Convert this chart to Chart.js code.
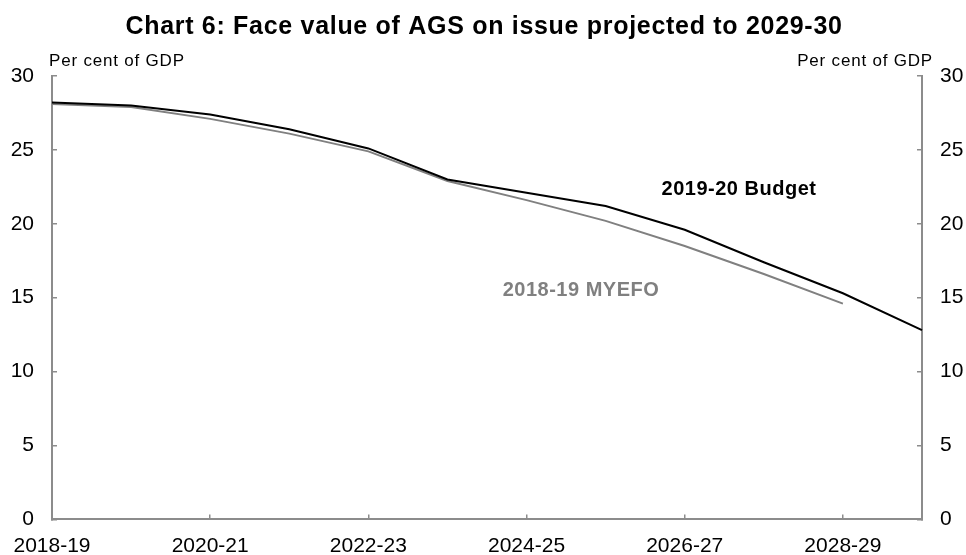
<!DOCTYPE html>
<html>
<head>
<meta charset="utf-8">
<script src="https://cdn.jsdelivr.net/npm/chart.js@4"></script>
<style>
  html, body { margin: 0; padding: 0; background: #fff; }
  #wrap { width: 966px; height: 555px; }
</style>
</head>
<body>
<div id="wrap"><canvas id="agsChart" width="966" height="555"></canvas></div>
<script>
// Face value of AGS on issue, per cent of GDP
const years = ['2018-19', '2019-20', '2020-21', '2021-22', '2022-23', '2023-24',
  '2024-25', '2025-26', '2026-27', '2027-28', '2028-29', '2029-30'];
const budget = [28.2, 28.0, 27.4, 26.4, 25.1, 23.0, 22.1, 21.2, 19.6, 17.4, 15.3, 12.8];
const myefo = [28.1, 27.9, 27.1, 26.1, 24.9, 22.9, 21.6, 20.2, 18.5, 16.6, 14.6, null];
const yTicks = [0, 5, 10, 15, 20, 25, 30];

const axisGrey = '#8c8c8c';
const fontFamily = '"Liberation Sans", Arial, sans-serif';

Chart.defaults.font.family = fontFamily;
Chart.defaults.color = '#000';

// title, unit labels and series labels
const textPlugin = {
  id: 'chartText',
  afterDraw(chart) {
    const ctx = chart.ctx;
    ctx.save();
    ctx.textBaseline = 'alphabetic';

    ctx.fillStyle = '#000';
    ctx.font = 'bold 25px ' + fontFamily;
    ctx.letterSpacing = '0.7px';
    ctx.textAlign = 'center';
    ctx.fillText('Chart 6: Face value of AGS on issue projected to 2029-30', 484, 34);

    ctx.font = '17px ' + fontFamily;
    ctx.letterSpacing = '0.8px';
    ctx.textAlign = 'left';
    ctx.fillText('Per cent of GDP', 49, 66);
    ctx.textAlign = 'right';
    ctx.fillText('Per cent of GDP', 933, 66);

    ctx.font = 'bold 20px ' + fontFamily;
    ctx.letterSpacing = '0.5px';
    ctx.textAlign = 'center';
    ctx.fillStyle = '#000';
    ctx.fillText('2019-20 Budget', 739, 195);
    ctx.fillStyle = '#808080';
    ctx.fillText('2018-19 MYEFO', 581, 296);
    ctx.restore();
  }
};

function yAxis(position, width) {
  return {
    position: position,
    min: 0,
    max: 30,
    afterBuildTicks: scale => { scale.ticks = yTicks.map(v => ({ value: v })); },
    ticks: { padding: 23, font: { size: 21 }, color: '#000' },
    grid: { drawOnChartArea: false, tickLength: -5, color: axisGrey, lineWidth: 1.5 },
    border: { color: axisGrey, width: 2 },
    afterFit: scale => { scale.width = width; }
  };
}

new Chart(document.getElementById('agsChart'), {
  type: 'line',
  data: {
    labels: years,
    datasets: [
      {
        label: '2019-20 Budget',
        data: budget,
        borderColor: '#000',
        borderWidth: 2,
        pointRadius: 0,
        tension: 0
      },
      {
        label: '2018-19 MYEFO',
        data: myefo,
        borderColor: '#808080',
        borderWidth: 2,
        pointRadius: 0,
        tension: 0
      }
    ]
  },
  options: {
    responsive: false,
    animation: false,
    layout: { padding: { top: 76, left: 0, right: 0, bottom: 0 } },
    plugins: {
      legend: { display: false },
      title: { display: false },
      tooltip: { enabled: false }
    },
    scales: {
      x: {
        offset: false,
        ticks: {
          autoSkip: false,
          maxRotation: 0,
          padding: 19,
          font: { size: 21 },
          color: '#000',
          callback: (v, i) => (i % 2 === 0 ? years[i] : '')
        },
        grid: {
          drawOnChartArea: false,
          tickLength: -5,
          lineWidth: 1.5,
          color: c => (c.index % 2 === 0 ? axisGrey : 'rgba(0,0,0,0)')
        },
        border: { color: axisGrey, width: 2 },
        afterFit: scale => {
          scale.height = 33;
          scale.paddingLeft = 0;
          scale.paddingRight = 0;
        }
      },
      y: yAxis('left', 52),
      y2: yAxis('right', 44)
    }
  },
  plugins: [textPlugin]
});
</script>
</body>
</html>
